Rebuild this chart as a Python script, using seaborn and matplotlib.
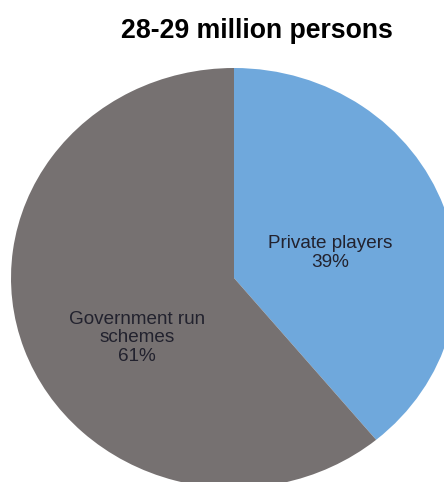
import matplotlib
matplotlib.use("Agg")
import matplotlib.pyplot as plt
import seaborn as sns
import numpy as np

# Share of persons by type of provider
categories = ["Private players", "Government run\nschemes"]
shares = [39, 61]
title = "28-29 million persons"

sns.set_theme(style="white")
plt.rcParams["font.family"] = ["Liberation Sans", "DejaVu Sans"]
colors = ["#6fa8dc", "#767171"]

W, H = 444, 482
fig = plt.figure(figsize=(W / 100, H / 100), dpi=100)

# pie centre and radii in pixels
cx, cy, rx, ry = 234, 278, 223, 210
ax = fig.add_axes([(cx - rx) / W, (H - cy - ry) / H, 2 * rx / W, 2 * ry / H])
wedges, _ = ax.pie(shares, colors=colors, startangle=90, counterclock=False,
                   radius=1.0, wedgeprops=dict(linewidth=0))
ax.set_aspect("auto")
ax.set_xlim(-1, 1)
ax.set_ylim(-1, 1)
ax.axis("off")

label_pos = [(0.43, 0.12), (-0.435, -0.285)]
for cat, val, (lx, ly) in zip(categories, shares, label_pos):
    ax.text(lx, ly, f"{cat}\n{val}%", ha="center", va="center",
            fontsize=13.6, color="#22222e", linespacing=1.12)

fig.text(257 / W, 1 - 38 / H, title, ha="center", va="baseline",
         fontsize=19.2, fontweight="bold", color="black")

fig.savefig("out.png", dpi=100)
